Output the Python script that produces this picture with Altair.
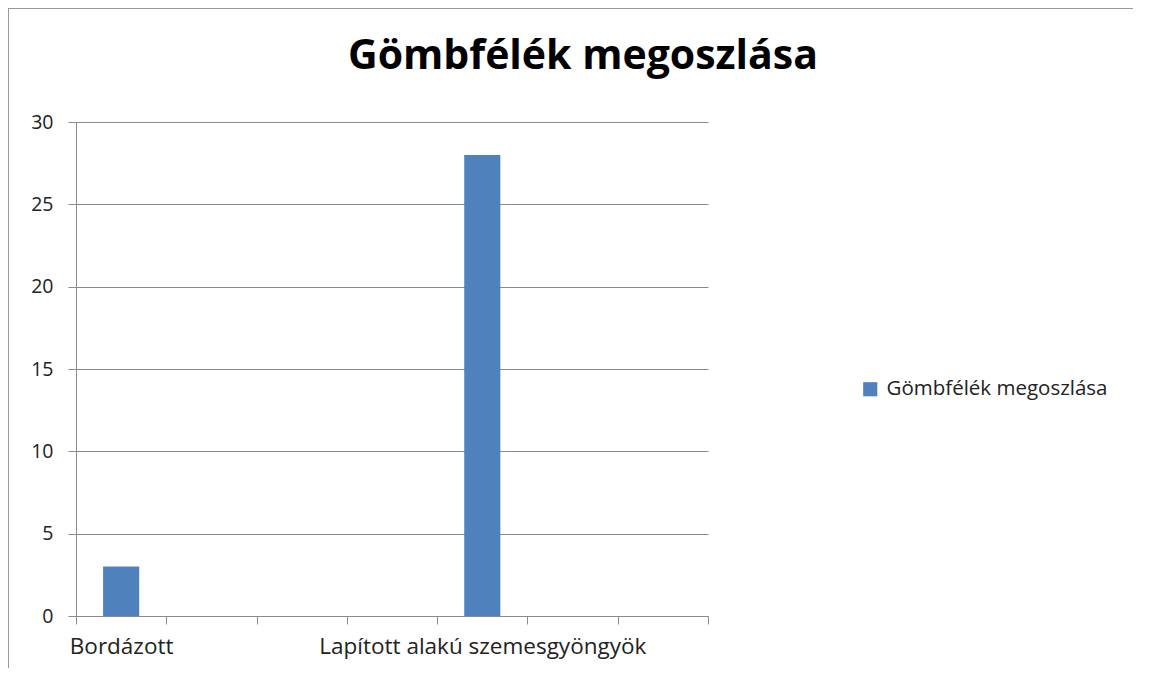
import altair as alt
import pandas as pd

# Data (categories; only two category labels are visible)
categories = ["Bordázott", "Dinnyemag alakú", "Hengeres", "Gömbölyű",
              "Lapított alakú szemesgyöngyök", "Tagolt", "Szemes"]
values = [3, 0, 0, 0, 28, 0, 0]
shown_labels = ["Bordázott", "Lapított alakú szemesgyöngyök"]
series_name = "Gömbfélék megoszlása"
title_text = "Gömbfélék megoszlása"
y_ticks = [0, 5, 10, 15, 20, 25, 30]

df = pd.DataFrame({"kategoria": categories, "ertek": values,
                   "sorozat": [series_name] * len(categories)})

FONT = "Open Sans"
GRID = "#8a8a8a"
BLUE = "#4f81bd"
W, H = 632, 494

label_expr = "indexof(" + str(shown_labels).replace("'", '"') + ", datum.value) >= 0 ? datum.value : ''"

bars = alt.Chart(df).mark_bar(color=BLUE, width=alt.RelativeBandSize(0.4)).encode(
    x=alt.X("kategoria:N", sort=categories,
            scale=alt.Scale(paddingInner=0, paddingOuter=0),
            axis=alt.Axis(title=None, labelAngle=0, labelExpr=label_expr,
                          tickBand="extent", tickSize=8, tickColor=GRID,
                          domainColor=GRID, labelFont=FONT, labelFontSize=22.5,
                          labelColor="#222222", labelPadding=11, labelLimit=0,
                          labelBaseline="top", grid=False)),
    y=alt.Y("ertek:Q", scale=alt.Scale(domain=[0, 30]),
            axis=alt.Axis(title=None, values=y_ticks, tickSize=8,
                          tickColor=GRID, domainColor=GRID, gridColor=GRID,
                          labelFont=FONT, labelFontSize=19.5,
                          labelColor="#222222", labelPadding=15)),
    color=alt.Color("sorozat:N",
                    scale=alt.Scale(domain=[series_name], range=[BLUE]),
                    legend=alt.Legend(title=None, orient="none",
                                      legendX=784, legendY=257,
                                      symbolType="square", symbolSize=200,
                                      symbolStrokeWidth=0, labelFont=FONT,
                                      labelFontSize=20.5, labelColor="#222222",
                                      labelLimit=0, labelOffset=6)),
)

border_data = alt.Data(values=[{}])
left_border = alt.Chart(border_data).mark_rule(color="#999999", strokeWidth=1).encode(
    x=alt.value(-67.5), y=alt.value(-114), y2=alt.value(560))
top_border = alt.Chart(border_data).mark_rule(color="#999999", strokeWidth=1).encode(
    x=alt.value(-68), x2=alt.value(1110), y=alt.value(-113.5))

chart = alt.layer(bars, left_border, top_border).properties(
    width=W, height=H,
    title=alt.TitleParams(title_text, font=FONT, fontSize=41, fontWeight="bold",
                          color="#000000", anchor="middle", dx=191, dy=152,
                          baseline="alphabetic", offset=50),
    autosize=alt.AutoSizeParams(type="none"),
    padding={"left": 68, "top": 114, "right": 425, "bottom": 52},
).configure_view(stroke=None)

chart.save("out.html", embed_options={"renderer": "svg", "actions": False})
